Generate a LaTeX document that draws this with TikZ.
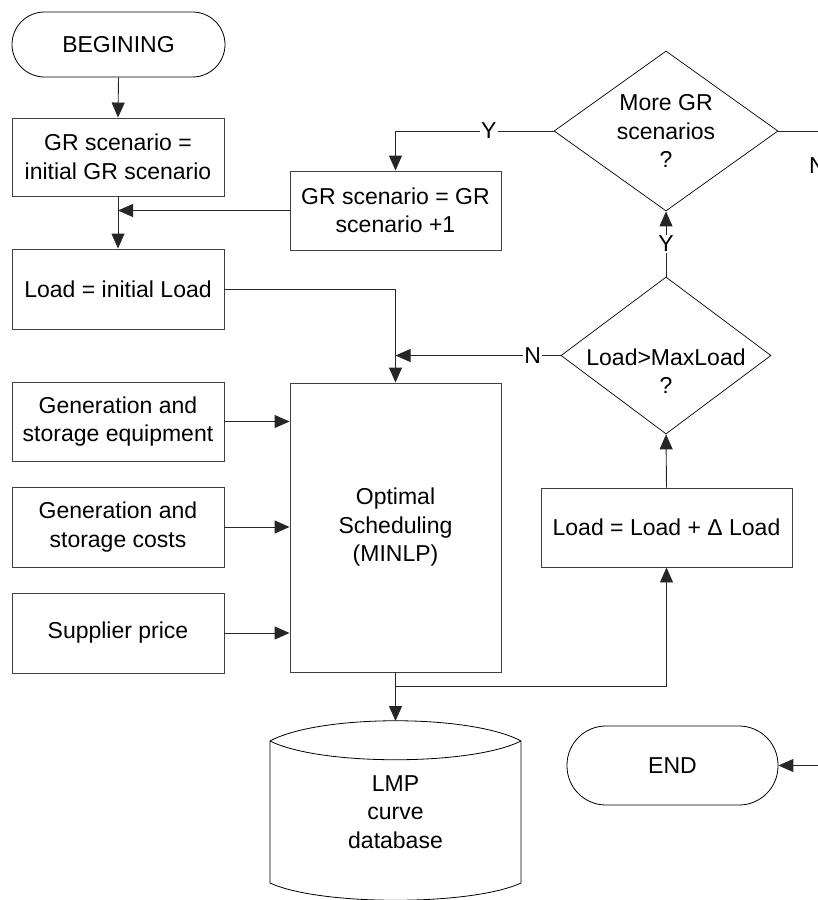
\documentclass[tikz,border=0pt]{standalone}
\usepackage{fontspec}
\setmainfont{Liberation Sans}
\usetikzlibrary{arrows.meta,shapes.geometric}
\begin{document}
\begin{tikzpicture}[x=1pt,y=-1pt,
  every node/.style={font=\fontsize{23}{28.5}\selectfont, align=center, inner sep=0pt},
  box/.style={draw=black!75, line width=0.9pt, fill=white, rectangle},
  term/.style={draw=black, line width=0.8pt, fill=white, rectangle},
  decide/.style={draw=black, line width=0.7pt, diamond, aspect=1.4},
  conn/.style={draw=black!85, line width=0.9pt},
  arr/.style={conn, -{Triangle[length=15pt,width=13pt]}},
  yn/.style={fill=white, inner sep=1.5pt}
]
\useasboundingbox (0,0) rectangle (817,900);

% start / end terminals
\node[term, rounded corners=32.5pt, minimum width=213pt, minimum height=65pt] (begin) at (118.5,44.5) {BEGINING};
\node[term, rounded corners=39pt, minimum width=211pt, minimum height=79pt] (end) at (672.5,765.5) {END};

% process boxes
\node[box, minimum width=212pt, minimum height=78pt] (grinit) at (118,157) {GR scenario =\\initial GR scenario};
\node[box, minimum width=211pt, minimum height=79pt] (grinc) at (395.5,210.5) {GR scenario = GR\\scenario +1};
\node[box, minimum width=212pt, minimum height=80pt] (loadinit) at (118,289) {Load = initial Load};
\node[box, minimum width=212pt, minimum height=79pt] (geneq) at (118,421.5) {Generation and\\storage equipment};
\node[box, minimum width=212pt, minimum height=80pt] (gencost) at (118,527) {Generation and\\storage costs};
\node[box, minimum width=212pt, minimum height=80pt] (supp) at (118,633) {Supplier price};
\node[box, minimum width=211pt, minimum height=289pt] (opt) at (395.5,527.5) {Optimal\\Scheduling\\(MINLP)};
\node[box, minimum width=251pt, minimum height=79pt] (loadinc) at (666.5,527.5) {Load = Load + Δ Load};

% decisions
\node[decide, minimum width=224pt, minimum height=160pt] (moregr) at (666,131) {More GR\\scenarios\\?};
\node[decide, minimum width=210pt, minimum height=157pt] (maxload) at (666,355.5) {};
\node (maxloadtext) at (666,371) {Load>MaxLoad\\?};

% database drum
\coordinate (dbtop) at (395.5,721);
\draw[line width=0.8pt, fill=white]
  (270,741) .. controls (320,714) and (471,714) .. (521,741)
  -- (521,883) .. controls (471,906) and (320,906) .. (270,883) -- cycle;
\draw[line width=0.8pt] (270,741) .. controls (320,766) and (471,766) .. (521,741);
\node (db) at (395.5,812) {LMP\\curve\\database};

% connectors
\draw[arr] (begin.south) -- (grinit.north);
\draw[arr] (grinit.south) -- (loadinit.north);
\draw[arr] (grinc.west) -- (grinit.south |- grinc.west);
\draw[arr] (loadinit.east) -| (opt.north);
\draw[arr] (geneq.east) -- (opt.west |- geneq.east);
\draw[arr] (gencost.east) -- (opt.west |- gencost.east);
\draw[arr] (supp.east) -- (opt.west |- supp.east);
\coordinate (split) at (395.5,686);
\draw[arr] (opt.south) -- (split) -| (loadinc.south);
\draw[arr] (split) -- (dbtop);
\draw[arr] (loadinc.north) -- (maxload.south);
\draw[arr] (maxload.north) -- node[yn] {Y} (moregr.south);
\draw[arr] (maxload.west) -- node[yn, pos=0.17] {N} (opt.north |- maxload.west);
\draw[arr] (moregr.west) -- node[yn, pos=0.41] {Y} (grinc.north |- moregr.west) -- (grinc.north);
\coordinate (offright) at (840,131);
\draw[arr] (moregr.east) -- (offright) |- (end.east);
\node[anchor=west] (nlabel) at (809,166) {N};
\end{tikzpicture}
\end{document}
